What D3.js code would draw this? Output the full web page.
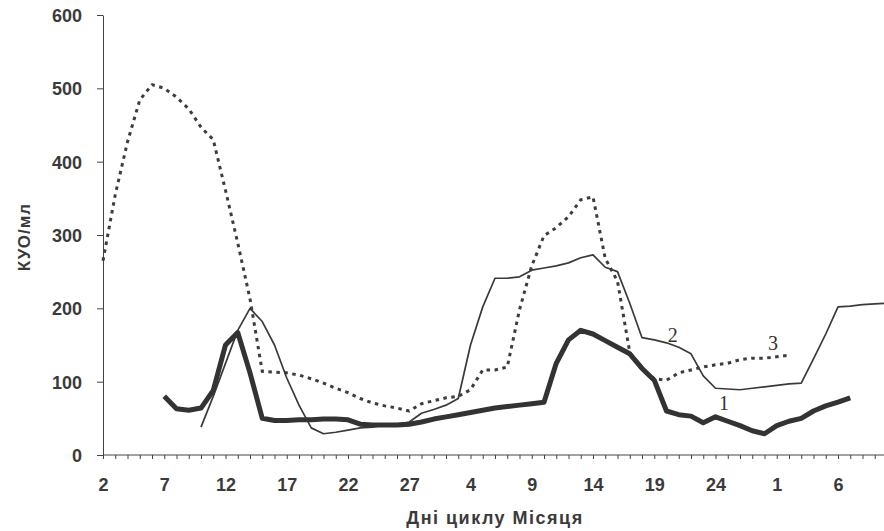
<!DOCTYPE html>
<html>
<head>
<meta charset="utf-8">
<script src="https://cdn.jsdelivr.net/npm/d3@7"></script>
<style>
	body { margin: 0; background: #fff; }
	svg { display: block; }
	.axis text { font-family: Arial, "Liberation Sans", sans-serif; font-weight: bold; font-size: 18px; fill: #3a3a3a; }
	.axis path, .axis line { stroke: #444; }
</style>
</head>
<body>
<svg id="chart" width="884" height="531"></svg>
<script>
// days of the lunar cycle, one category per day
var days = [2, 3, 4, 5, 6, 7, 8, 9, 10, 11, 12, 13, 14, 15, 16, 17, 18, 19, 20, 21, 22, 23, 24, 25, 26, 27, 28,
	1, 2, 3, 4, 5, 6, 7, 8, 9, 10, 11, 12, 13, 14, 15, 16, 17, 18, 19, 20, 21, 22, 23, 24, 25, 26, 27, 28,
	1, 2, 3, 4, 5, 6, 7, 8, 9, 10];

// series 1 (thick line)
var series1 = [null, null, null, null, null, 80, 63, 61, 64, 88,
	150, 167, 112, 50, 47, 47, 48, 48, 49, 49,
	48, 42, 41, 41, 41, 42, 45, 49, 52, 55,
	58, 61, 64, 66, 68, 70, 72, 125, 157, 170,
	165, 156, 147, 138, 118, 102, 60, 55, 53, 44,
	52, 46, 40, 33, 29, 40, 46, 50, 60, 67,
	72, 78, null, null, null];

// series 2 (thin line)
var series2 = [null, null, null, null, null, null, null, null, 38, 80,
	125, 170, 200, 182, 150, 105, 68, 37, 29, 31,
	34, 37, 38, 41, 42, 45, 57, 62, 68, 77,
	150, 202, 241, 241, 243, 252, 255, 258, 262, 269,
	273, 256, 250, 207, 160, 157, 153, 147, 138, 108,
	91, 90, 89, 91, 93, 95, 97, 98, 131, 165,
	202, 203, 205, 206, 207];

// series 3 (dotted line)
var series3 = [265, 355, 427, 484, 505, 500, 488, 472, 447, 430,
	361, 289, 213, 114, 113, 112, 109, 104, 98, 91,
	85, 77, 71, 67, 64, 60, 70, 74, 78, 80,
	89, 116, 116, 120, 198, 258, 299, 310, 325, 348,
	352, 268, 237, 140, 118, 104, 102, 112, 116, 120,
	123, 125, 130, 132, 132, 134, 136, null, null, null,
	null, null, null, null, null];

var yTicks = [0, 100, 200, 300, 400, 500, 600];
var labelStep = 5;

// curve numbers written next to the lines
var seriesLabels = [
	{ text: "1", index: 50.7, value: 61 },
	{ text: "2", index: 46.5, value: 154 },
	{ text: "3", index: 54.7, value: 143 }
];

var svg = d3.select("#chart");

var x = d3.scaleLinear()
	.domain([0, days.length - 1])
	.range([103, 103 + 12.25 * (days.length - 1)]);

var y = d3.scaleLinear()
	.domain([0, 600])
	.range([455, 15]);

// y axis
svg.append("g")
	.attr("class", "axis")
	.attr("transform", "translate(103,0)")
	.call(d3.axisLeft(y).tickValues(yTicks).tickSize(6).tickPadding(15).tickSizeOuter(0))
	.selectAll("text").attr("dy", "0.36em");

// x axis: line + a small tick for every day
var xMinor = svg.append("g")
	.attr("class", "axis")
	.attr("transform", "translate(0,455)")
	.call(d3.axisBottom(x).tickValues(d3.range(days.length)).tickSize(4).tickFormat("").tickSizeOuter(0));
xMinor.select(".domain").attr("d", "M103,0H884");

// x labels every 5th day
var xLabels = svg.append("g")
	.attr("class", "axis")
	.attr("transform", "translate(0,455)")
	.call(d3.axisBottom(x)
		.tickValues(d3.range(0, days.length, labelStep))
		.tickFormat(function(i) { return days[i]; })
		.tickSize(0).tickPadding(23));
xLabels.select(".domain").remove();

// axis titles
svg.append("text")
	.attr("transform", "translate(30,237) rotate(-90)")
	.attr("text-anchor", "middle")
	.style("font-family", "Arial, 'Liberation Sans', sans-serif")
	.style("font-weight", "bold")
	.style("font-size", "17px")
	.style("letter-spacing", "1px")
	.style("fill", "#3a3a3a")
	.text("КУО/мл");

svg.append("text")
	.attr("x", 495)
	.attr("y", 524)
	.attr("text-anchor", "middle")
	.style("font-family", "Arial, 'Liberation Sans', sans-serif")
	.style("font-weight", "bold")
	.style("font-size", "18px")
	.style("letter-spacing", "1.5px")
	.style("fill", "#3a3a3a")
	.text("Дні циклу Місяця");

// lines; empty cells are skipped and the neighbours joined
function drawSeries(values, style) {
	var pts = values
		.map(function(v, i) { return { i: i, v: v }; })
		.filter(function(d) { return d.v !== null; });

	var line = d3.line()
		.x(function(d) { return x(d.i); })
		.y(function(d) { return y(d.v); });

	svg.append("path")
		.datum(pts)
		.attr("d", line)
		.attr("fill", "none")
		.attr("stroke", style.color)
		.attr("stroke-width", style.width)
		.attr("stroke-dasharray", style.dash || null)
		.attr("stroke-linejoin", "round");
}

drawSeries(series3, { color: "#3d3d3d", width: 3, dash: "3.5,4.5" });
drawSeries(series2, { color: "#3a3a3a", width: 1.7 });
drawSeries(series1, { color: "#333", width: 5 });

svg.selectAll("text.series-label")
	.data(seriesLabels)
	.enter().append("text")
	.attr("class", "series-label")
	.attr("x", function(d) { return x(d.index); })
	.attr("y", function(d) { return y(d.value); })
	.attr("text-anchor", "middle")
	.style("font-family", "'Liberation Serif', 'DejaVu Serif', serif")
	.style("font-size", "20px")
	.style("fill", "#333")
	.text(function(d) { return d.text; });
</script>
</body>
</html>
